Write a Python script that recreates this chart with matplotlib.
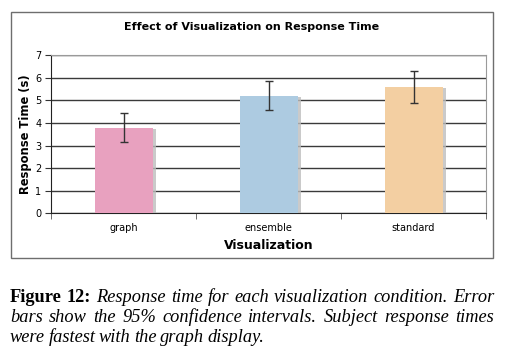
import matplotlib
matplotlib.use('Agg')
import matplotlib.pyplot as plt
import matplotlib.patheffects as pe
from matplotlib.patches import Rectangle

# data
conditions = ['graph', 'ensemble', 'standard']
mean_time = [3.8, 5.2, 5.6]
ci95 = [0.63, 0.64, 0.72]
bar_colors = ['#e8a1bf', '#adcbe1', '#f3cfa2']

caption_lines = [
    [('Figure 12:', 'bold'), ('Response time for each visualization condition.  Error', 'italic')],
    [('bars show the 95% confidence intervals.  Subject response times', 'italic')],
    [('were fastest with the graph display.', 'italic')],
]

W, H = 505, 355
fig = plt.figure(figsize=(W / 100, H / 100), dpi=100)
fig.patch.set_facecolor('white')

# outer chart frame
fig.patches.append(Rectangle((11 / W, 1 - 258 / H), 482 / W, 246 / H,
                             transform=fig.transFigure, fill=False,
                             edgecolor='#6e6e6e', linewidth=1.0))

ax = fig.add_axes([51 / W, 1 - 213.3 / H, 435 / W, 158 / H])
x = range(len(conditions))
shadow = [pe.SimplePatchShadow(offset=(2.5, -1), shadow_rgbFace='#bdbdbd', alpha=0.8), pe.Normal()]
bars = ax.bar(x, mean_time, width=0.4, color=bar_colors, zorder=3)
for b in bars:
    b.set_path_effects(shadow)
ax.errorbar(x, mean_time, yerr=ci95, fmt='none', ecolor='#333333',
            elinewidth=1, capsize=3, capthick=1, zorder=4)

ax.set_xlim(-0.5, 2.5)
ax.set_ylim(0, 7)
ax.set_yticks(range(8))
ax.yaxis.grid(True, color='#3a3a3a', linewidth=1, zorder=0)
ax.set_axisbelow(True)
ax.set_xticks(list(x))
ax.set_xticklabels(conditions, fontsize=7)
ax.set_xticks([-0.5, 0.5, 1.5, 2.5], minor=True)
ax.tick_params(axis='x', which='major', length=0, pad=7)
ax.tick_params(axis='x', which='minor', length=4, color='#555555')
ax.tick_params(axis='y', length=4, labelsize=7, pad=3, color='#333333')

for s in ['top', 'right']:
    ax.spines[s].set_color('#9a9a9a')
for s in ['left', 'bottom']:
    ax.spines[s].set_color('#222222')

ax.set_ylabel('Response Time (s)', fontsize=8.3, fontweight='bold', labelpad=2)
ax.set_xlabel('Visualization', fontsize=9, fontweight='bold', labelpad=4)
fig.text(252 / W, 1 - 27 / H, 'Effect of Visualization on Response Time',
         ha='center', va='center', fontsize=8, fontweight='bold')

# justified caption below the chart
fig.canvas.draw()
renderer = fig.canvas.get_renderer()
left_px, right_px = 10, 494
line_y = [297, 317, 337]
for li, (parts, y) in enumerate(zip(caption_lines, line_y)):
    words = []
    for txt, style in parts:
        for w in txt.split():
            kw = dict(fontsize=13.2, family='Liberation Serif', va='center', ha='left')
            if style == 'bold':
                kw['fontweight'] = 'bold'
            else:
                kw['style'] = 'italic'
            words.append(fig.text(0, 1 - y / H, w, **kw))
    widths = [t.get_window_extent(renderer).width for t in words]
    last = li == len(caption_lines) - 1
    gap = 3.5 if last else (right_px - left_px - sum(widths)) / (len(words) - 1)
    pos = left_px
    for t, wd in zip(words, widths):
        t.set_x(pos / W)
        pos += wd + gap

fig.savefig('out.png', dpi=100)
